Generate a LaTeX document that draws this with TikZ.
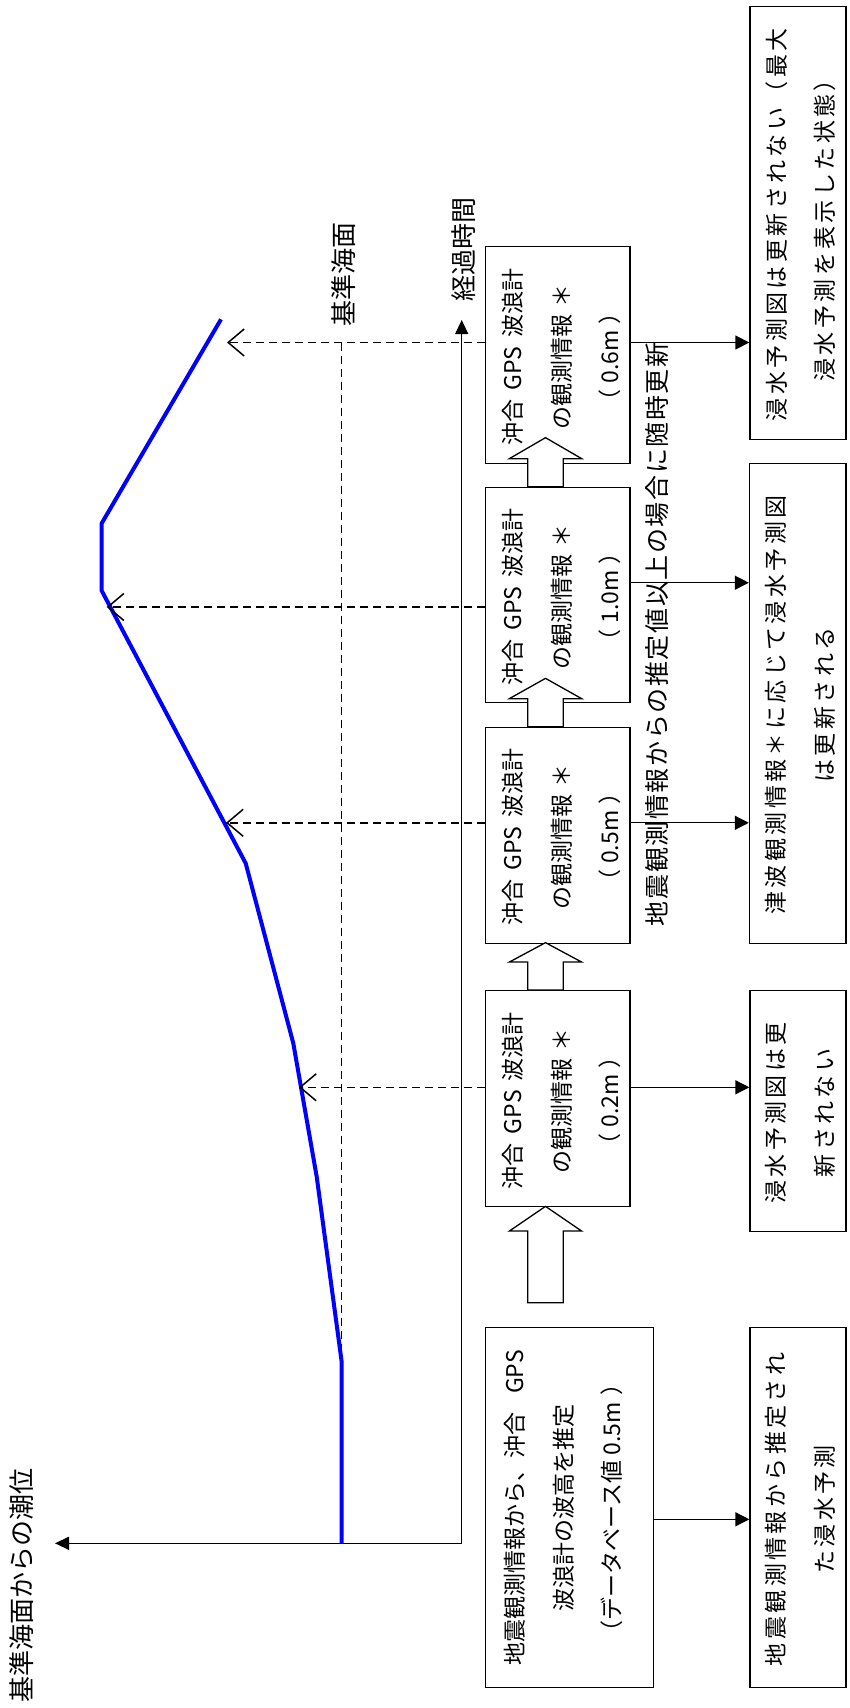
\documentclass[tikz,border=0pt]{standalone}
\usepackage{fontspec}
\newfontfamily\jp{Noto Sans CJK JP}
\usetikzlibrary{arrows.meta,calc}
\newdimen\lsk
\makeatletter
\def\ls#1#2{\lsk=#1\relax\ls@#2\ls@end}
\def\ls@#1{\ifx#1\ls@end\else#1\kern\lsk\expandafter\ls@\fi}
\makeatother
\newcommand\dl[1]{\ls{3.4pt}{#1}}
\newcommand\hollowarr[3]{%
  \draw[hollow] (#1) +(-17.8,0) -- +(-17.8,-#2) -- +(-36.15,-#2) -- +(0,-#2-#3)
    -- +(36.15,-#2) -- +(17.8,-#2) -- +(17.8,0) -- cycle;}
\begin{document}
\begin{tikzpicture}[x=1pt,y=-1pt,
  box/.style={draw, line width=1.3pt, fill=white, inner sep=0pt},
  txt/.style={rotate=90, align=center, inner sep=0pt, font=\jp\fontsize{23}{48.5}\selectfont},
  lbl/.style={rotate=90, inner sep=0pt, font=\jp\fontsize{26}{30}\selectfont},
  notelbl/.style={rotate=90, inner sep=0pt, font=\jp\fontsize{25}{30}\selectfont},
  conn/.style={line width=1.3pt, -{Triangle[length=14pt,width=14pt]}},
  axis/.style={line width=1.3pt, -{Triangle[length=14pt,width=13pt]}},
  dsh/.style={line width=1.5pt, dash pattern=on 8pt off 5pt},
  dsharr/.style={dsh, -{Straight Barb[length=16pt,width=27pt]}},
  hollow/.style={draw, line width=1.3pt, fill=white, line join=miter},
  wave/.style={draw=blue, line width=4pt, line join=miter}
]
\useasboundingbox (0,0) rectangle (850,1708);

% boxes
\node[box, minimum width=168pt, minimum height=360pt] (A) at (569.7,1507.7) {};
\node[box, minimum width=96pt, minimum height=360pt] (B) at (798,1507.7) {};
\node[box, minimum width=144.3pt, minimum height=216pt] (C1) at (557.85,1098.7) {};
\node[box, minimum width=144.3pt, minimum height=216pt] (C2) at (557.85,835.3) {};
\node[box, minimum width=144.3pt, minimum height=215.4pt] (C3) at (557.85,595) {};
\node[box, minimum width=144.3pt, minimum height=216.6pt] (C4) at (557.85,355) {};
\node[box, minimum width=96pt, minimum height=241pt] (D1) at (798,1111.2) {};
\node[box, minimum width=96.5pt, minimum height=480pt] (D2) at (797.75,703.3) {};
\node[box, minimum width=96pt, minimum height=432.6pt] (D3) at (798,223) {};

% texts in boxes
\node[txt] (tA) at ([xshift=-6pt]A.center) {地震観測情報から、沖合\hspace{0.8em}GPS\\波浪計の波高を推定\\（データベース値 0.5m\hspace{0.3em}）};
\node[txt] (tB) at ([xshift=2.5pt]B.center) {\dl{地震観測情報から推定され}\\\dl{た浸水予測}};
\node[txt] (tC1) at ([xshift=4pt,yshift=-2pt]C1.center) {沖合\hspace{0.4em}GPS\hspace{0.4em}波浪計\\の観測情報\hspace{0.3em}＊\\（\hspace{0.25em}0.2m\hspace{0.25em}）};
\node[txt] (tC2) at ([xshift=4pt,yshift=-2pt]C2.center) {沖合\hspace{0.4em}GPS\hspace{0.4em}波浪計\\の観測情報\hspace{0.3em}＊\\（\hspace{0.25em}0.5m\hspace{0.25em}）};
\node[txt] (tC3) at ([xshift=4pt,yshift=-2pt]C3.center) {沖合\hspace{0.4em}GPS\hspace{0.4em}波浪計\\の観測情報\hspace{0.3em}＊\\（\hspace{0.25em}1.0m\hspace{0.25em}）};
\node[txt] (tC4) at ([xshift=4pt,yshift=-2pt]C4.center) {沖合\hspace{0.4em}GPS\hspace{0.4em}波浪計\\の観測情報\hspace{0.3em}＊\\（\hspace{0.25em}0.6m\hspace{0.25em}）};
\node[txt] (tD1) at ([xshift=2.5pt]D1.center) {\dl{浸水予測図は更}\\\dl{新されない}};
\node[txt] (tD2) at ([xshift=2.5pt]D2.center) {\dl{津波観測情報＊に応じて浸水予測図}\\\dl{は更新される}};
\node[txt] (tD3) at ([xshift=2.5pt]D3.center) {\dl{浸水予測図は更新されない（最大}\\\dl{浸水予測を表示した状態）}};

% hollow block arrows
\hollowarr{$(A.north)+(-24.2,-24.4)$}{71.6}{24.7}
\hollowarr{$(C1.north)+(-12.35,0)$}{28}{19.4}
\hollowarr{$(C2.north)+(-12.35,0)$}{28}{20.3}
\hollowarr{$(C3.north)+(-12.35,0)$}{28}{21}

% axes
\coordinate (O) at (461.7,1543.3);
\coordinate (Tend) at (461.7,320);
\coordinate (Hend) at (55,1543.3);
\draw[axis] (O) -- (Tend);
\draw[axis] (O) -- (Hend);

% reference sea level
\coordinate (r1) at (341.7,342.5);
\coordinate (r2) at (341.7,1362);
\draw[dsh] (r1) -- (r2);

% tide curve
\draw[wave] (341.7,1543.3) -- (341.7,1362) -- (316.7,1176.7) -- (293.3,1043.3)
  -- (245.7,863.3) -- (101.7,590.7) -- (101.7,523.3) -- (221,319.3);

% dashed observation lines
\coordinate (h4) at (227,342.5);
\coordinate (h3) at (106.7,607);
\coordinate (h2) at (226,822.8);
\coordinate (h1) at (299,1087.3);
\draw[dsharr] (C4.west |- h4) -- (h4);
\draw[dsharr] (C3.west |- h3) -- (h3);
\draw[dsharr] (C2.west |- h2) -- (h2);
\draw[dsharr] (C1.west |- h1) -- (h1);

% solid arrows to result boxes
\coordinate (y4) at (0,342.5);
\coordinate (y3) at (0,582.7);
\coordinate (y2) at (0,822.8);
\coordinate (y1) at (0,1087.3);
\coordinate (y0) at (0,1519.3);
\draw[conn] (C4.east |- y4) -- (D3.west |- y4);
\draw[conn] (C3.east |- y3) -- (D2.west |- y3);
\draw[conn] (C2.east |- y2) -- (D2.west |- y2);
\draw[conn] (C1.east |- y1) -- (D1.west |- y1);
\draw[conn] (A.east |- y0) -- (B.west |- y0);

% labels
\node[lbl] (yl) at (22,1585) {基準海面からの潮位};
\node[lbl] (rl) at (343.8,274) {基準海面};
\node[lbl] (tl) at (464,249.5) {経過時間};
\node[notelbl] (note) at (656.7,633.5) {\ls{1.6pt}{地震観測情報からの推定値以上の場合に随時更新}};
\end{tikzpicture}
\end{document}
